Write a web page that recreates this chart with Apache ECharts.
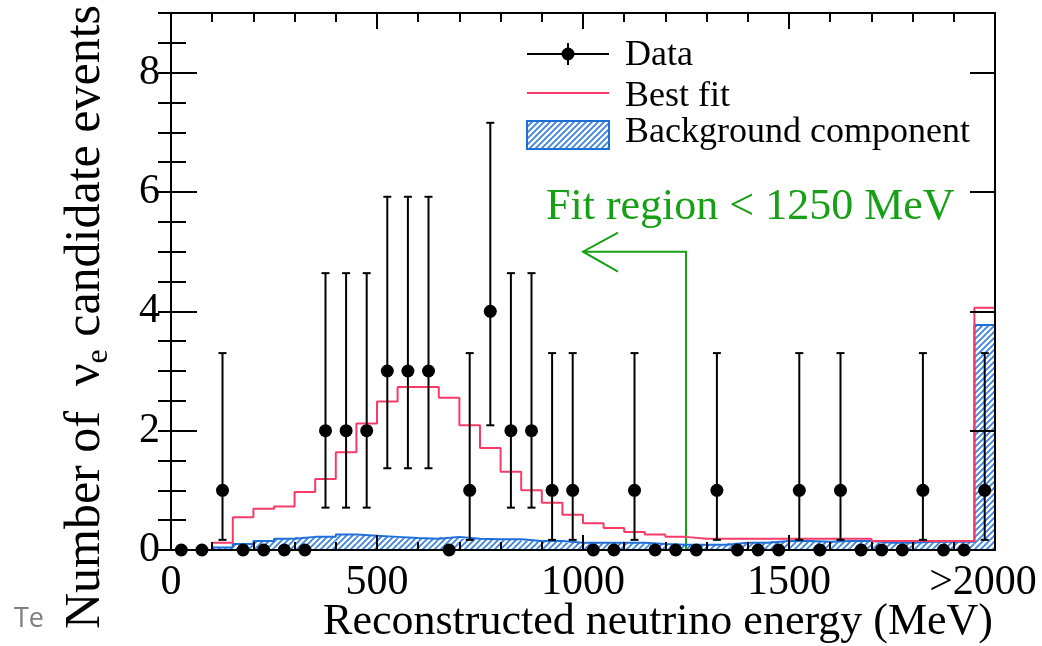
<!DOCTYPE html>
<html>
<head>
<meta charset="utf-8">
<script src="https://cdn.jsdelivr.net/npm/echarts@6/dist/echarts.min.js"></script>
<style>
  html, body { margin: 0; padding: 0; background: #ffffff; }
  #chart { width: 1042px; height: 646px; }
</style>
</head>
<body>
<div id="chart"></div>
<script>
// Reconstructed energy bins (MeV), 50 MeV wide; the last bin collects everything above 2000 MeV
const binCenters = [25, 75, 125, 175, 225, 275, 325, 375, 425, 475,
                    525, 575, 625, 675, 725, 775, 825, 875, 925, 975,
                    1025, 1075, 1125, 1175, 1225, 1275, 1325, 1375, 1425, 1475,
                    1525, 1575, 1625, 1675, 1725, 1775, 1825, 1875, 1925, 1975];
const binHalfWidth = 25;

// Observed nu_e candidate events per bin
const dataCounts = [0, 0, 1, 0, 0, 0, 0, 2, 2, 2,
                    3, 3, 3, 0, 1, 4, 2, 2, 1, 1,
                    0, 0, 1, 0, 0, 0, 1, 0, 0, 0,
                    1, 0, 1, 0, 0, 0, 1, 0, 0, 1];

// 68% Poisson interval edges, indexed by the observed count
const poissonLower = [0, 0.17, 0.71, 1.37, 2.09];
const poissonUpper = [0, 3.30, 4.64, 5.92, 7.16];

// Best-fit expectation per bin
const bestFit = [0, 0, 0.12, 0.55, 0.69, 0.73, 0.97, 1.19, 1.64, 2.12,
                 2.49, 2.73, 2.73, 2.55, 2.09, 1.71, 1.31, 1.00, 0.79, 0.59,
                 0.45, 0.37, 0.30, 0.26, 0.22, 0.19, 0.19, 0.19, 0.19, 0.19,
                 0.19, 0.19, 0.19, 0.19, 0.15, 0.15, 0.15, 0.15, 0.15, 4.06];

// Background component of the fit per bin
const background = [0, 0, 0.04, 0.10, 0.15, 0.19, 0.22, 0.22, 0.26, 0.24,
                    0.22, 0.20, 0.19, 0.22, 0.19, 0.18, 0.18, 0.15, 0.15, 0.12,
                    0.12, 0.12, 0.12, 0.10, 0.09, 0.09, 0.09, 0.12, 0.12, 0.15,
                    0.15, 0.14, 0.15, 0.15, 0.12, 0.12, 0.14, 0.14, 0.14, 3.77];

// Axis ticks and labels
const xTickValues = [0, 500, 1000, 1500, 2000];
const xTickLabels = ['0', '500', '1000', '1500', '>2000'];
const yTickValues = [0, 2, 4, 6, 8];
const yTickLabels = ['0', '2', '4', '6', '8'];

// Fit-region marker: cut energy, arrow tip energy and arrow height (events)
const fitCut = 1250;
const fitArrowTip = 1000;
const fitArrowLevel = 5;

const SERIF = '"Liberation Serif", "DejaVu Serif", "Times New Roman", serif';
const RED = '#f73b68';
const BLUE = '#1f6fd8';
const HATCH = '#3c84e0';
const GREEN = '#16a016';

// Diagonal hatch used for the background component
function makeHatch() {
  const s = 6;
  const c = document.createElement('canvas');
  c.width = s; c.height = s;
  const g = c.getContext('2d');
  g.strokeStyle = HATCH;
  g.lineWidth = 1.8;
  g.beginPath();
  g.moveTo(0, s); g.lineTo(s, 0);
  g.moveTo(-1, 1); g.lineTo(1, -1);
  g.moveTo(s - 1, s + 1); g.lineTo(s + 1, s - 1);
  g.stroke();
  return { image: c, repeat: 'repeat' };
}
const hatch = makeHatch();

// Histogram outline as a polyline through the bin edges
function stepPoints(values) {
  const pts = [];
  binCenters.forEach((c, i) => {
    pts.push([c - binHalfWidth, values[i]]);
    pts.push([c + binHalfWidth, values[i]]);
  });
  const last = binCenters[binCenters.length - 1] + binHalfWidth;
  pts.push([last, 0]);
  return pts;
}

const pointData = binCenters.map((c, i) => [c, dataCounts[i]]);
const errorData = binCenters
  .map((c, i) => [c, poissonLower[dataCounts[i]], poissonUpper[dataCounts[i]], dataCounts[i]])
  .filter(d => d[3] > 0);

const tickLine = { color: '#000', width: 2 };

const chart = echarts.init(document.getElementById('chart'), null, { renderer: 'canvas' });

const option = {
  animation: false,
  backgroundColor: '#ffffff',
  grid: { left: 171, top: 13, width: 824, height: 537, containLabel: false, outerBoundsMode: 'none' },
  xAxis: [
    {
      type: 'value', position: 'bottom', min: 0, max: 2000, interval: 500, z: 4,
      axisLine: { show: true, onZero: false, lineStyle: tickLine },
      axisTick: { show: true, inside: true, length: 15, lineStyle: tickLine },
      minorTick: { show: true, splitNumber: 5, length: 8, lineStyle: tickLine },
      splitLine: { show: false },
      axisLabel: {
        show: true, margin: 12, color: '#000', fontFamily: SERIF, fontSize: 42,
        formatter: v => {
          const k = xTickValues.indexOf(v);
          const txt = k >= 0 ? xTickLabels[k] : '';
          return k === xTickValues.length - 1 ? '{last|' + txt + '}' : txt;
        },
        rich: { last: { fontFamily: SERIF, fontSize: 42, color: '#000', padding: [0, 24, 0, 0] } }
      }
    },
    {
      type: 'value', position: 'top', min: 0, max: 2000, interval: 500, z: 4,
      axisLine: { show: true, onZero: false, lineStyle: tickLine },
      axisTick: { show: true, inside: true, length: 16, lineStyle: tickLine },
      minorTick: { show: true, splitNumber: 5, length: 9, lineStyle: tickLine },
      splitLine: { show: false },
      axisLabel: { show: false }
    }
  ],
  yAxis: [
    {
      type: 'value', position: 'left', min: 0, max: 9, interval: 2, z: 4,
      axisLine: { show: true, onZero: false, lineStyle: tickLine },
      axisTick: { show: true, inside: true, length: 26, lineStyle: tickLine },
      splitLine: { show: false },
      axisLabel: {
        show: true, margin: 11, color: '#000', fontFamily: SERIF, fontSize: 42, showMaxLabel: false,
        formatter: v => {
          const k = yTickValues.indexOf(v);
          return k >= 0 ? yTickLabels[k] : '';
        }
      }
    },
    {
      type: 'value', position: 'left', min: 0, max: 9, interval: 0.5, z: 4,
      axisLine: { show: false },
      axisTick: { show: true, inside: true, length: 15, lineStyle: tickLine },
      splitLine: { show: false },
      axisLabel: { show: false }
    },
    {
      type: 'value', position: 'right', min: 0, max: 9, interval: 2, z: 4,
      axisLine: { show: true, onZero: false, lineStyle: tickLine },
      axisTick: { show: true, inside: true, length: 25, lineStyle: tickLine },
      splitLine: { show: false },
      axisLabel: { show: false }
    },
    {
      type: 'value', position: 'right', min: 0, max: 9, interval: 0.5, z: 4,
      axisLine: { show: false },
      axisTick: { show: true, inside: true, length: 13, lineStyle: tickLine },
      splitLine: { show: false },
      axisLabel: { show: false }
    }
  ],
  series: [
    {
      name: 'Background component', type: 'custom', xAxisIndex: 0, yAxisIndex: 0, z: 2,
      data: binCenters.map((c, i) => [c, background[i]]),
      encode: { x: 0, y: 1 },
      renderItem: (params, api) => {
        const c = api.value(0), v = api.value(1);
        const p0 = api.coord([c - binHalfWidth, 0]);
        const p1 = api.coord([c + binHalfWidth, v]);
        return {
          type: 'rect',
          shape: { x: p0[0], y: p1[1], width: p1[0] - p0[0], height: p0[1] - p1[1] },
          style: { fill: hatch, stroke: null }
        };
      }
    },
    {
      name: 'Background outline', type: 'line', xAxisIndex: 0, yAxisIndex: 0, z: 3,
      data: stepPoints(background), symbol: 'none',
      lineStyle: { color: BLUE, width: 2 }
    },
    {
      name: 'Best fit', type: 'line', xAxisIndex: 0, yAxisIndex: 0, z: 3,
      data: stepPoints(bestFit), symbol: 'none',
      lineStyle: { color: RED, width: 2 }
    },
    {
      name: 'Fit region', type: 'custom', xAxisIndex: 0, yAxisIndex: 0, z: 3,
      data: [[fitCut, fitArrowTip, fitArrowLevel]],
      encode: { x: 0, y: 2 },
      renderItem: (params, api) => {
        const base = api.coord([api.value(0), 0]);
        const corner = api.coord([api.value(0), api.value(2)]);
        const tip = api.coord([api.value(1), api.value(2)]);
        const st = { stroke: GREEN, lineWidth: 2, fill: null };
        return {
          type: 'group',
          children: [
            { type: 'polyline', shape: { points: [base, corner, tip] }, style: st },
            { type: 'polyline', shape: { points: [[tip[0] + 35, tip[1] - 19], tip, [tip[0] + 35, tip[1] + 20]] }, style: st }
          ]
        };
      }
    },
    {
      name: 'Data errors', type: 'custom', xAxisIndex: 0, yAxisIndex: 0, z: 5,
      data: errorData,
      encode: { x: 0, y: [1, 2] },
      renderItem: (params, api) => {
        const lo = api.coord([api.value(0), api.value(1)]);
        const hi = api.coord([api.value(0), api.value(2)]);
        const st = { stroke: '#000', lineWidth: 2, fill: null };
        const cap = 4;
        return {
          type: 'group',
          children: [
            { type: 'line', shape: { x1: lo[0], y1: lo[1], x2: hi[0], y2: hi[1] }, style: st },
            { type: 'line', shape: { x1: lo[0] - cap, y1: lo[1], x2: lo[0] + cap, y2: lo[1] }, style: st },
            { type: 'line', shape: { x1: hi[0] - cap, y1: hi[1], x2: hi[0] + cap, y2: hi[1] }, style: st }
          ]
        };
      }
    },
    {
      name: 'Data', type: 'scatter', xAxisIndex: 0, yAxisIndex: 0, z: 6,
      data: pointData, symbol: 'circle', symbolSize: 13,
      itemStyle: { color: '#000', opacity: 1 }
    }
  ],
  graphic: [
    // Axis titles
    {
      type: 'text', x: 993, y: 622, z: 10,
      style: {
        text: 'Reconstructed neutrino energy (MeV)', fill: '#000',
        font: '44px ' + SERIF, align: 'right', verticalAlign: 'middle'
      }
    },
    {
      type: 'text', x: 86, y: 5, rotation: Math.PI / 2, z: 10,
      style: {
        text: '{t|Number of  ν}{s|e}{t| candidate events}',
        align: 'right', verticalAlign: 'middle',
        rich: {
          t: { fontFamily: SERIF, fontSize: 50, fill: '#000', lineHeight: 58 },
          s: { fontFamily: SERIF, fontSize: 32, fill: '#000', lineHeight: 26, verticalAlign: 'bottom' }
        }
      }
    },
    // Legend
    {
      type: 'group', z: 10,
      children: [
        { type: 'line', shape: { x1: 527, y1: 54, x2: 609, y2: 54 }, style: { stroke: '#000', lineWidth: 2 } },
        { type: 'line', shape: { x1: 568, y1: 43, x2: 568, y2: 65 }, style: { stroke: '#000', lineWidth: 2 } },
        { type: 'circle', shape: { cx: 568, cy: 54, r: 6.5 }, style: { fill: '#000' } },
        { type: 'text', x: 625, y: 56, style: { text: 'Data', fill: '#000', font: '36px ' + SERIF, verticalAlign: 'middle' } },
        { type: 'line', shape: { x1: 527, y1: 93, x2: 609, y2: 93 }, style: { stroke: RED, lineWidth: 2 } },
        { type: 'text', x: 625, y: 97, style: { text: 'Best fit', fill: '#000', font: '36px ' + SERIF, verticalAlign: 'middle' } },
        { type: 'rect', shape: { x: 527, y: 121, width: 82, height: 28 }, style: { fill: hatch, stroke: BLUE, lineWidth: 2 } },
        { type: 'text', x: 625, y: 133, style: { text: 'Background component', fill: '#000', font: '36px ' + SERIF, verticalAlign: 'middle' } }
      ]
    },
    // Fit-region annotation
    {
      type: 'text', x: 546, y: 207, z: 10,
      style: { text: 'Fit region < 1250 MeV', fill: GREEN, font: '44px ' + SERIF, verticalAlign: 'middle' }
    },
    {
      type: 'text', x: 14, y: 619, z: 10,
      style: { text: 'Te', fill: '#7f7f7f', font: '27px "Open Sans", "Noto Sans", sans-serif', verticalAlign: 'middle' }
    }
  ]
};

chart.setOption(option);
</script>
</body>
</html>
